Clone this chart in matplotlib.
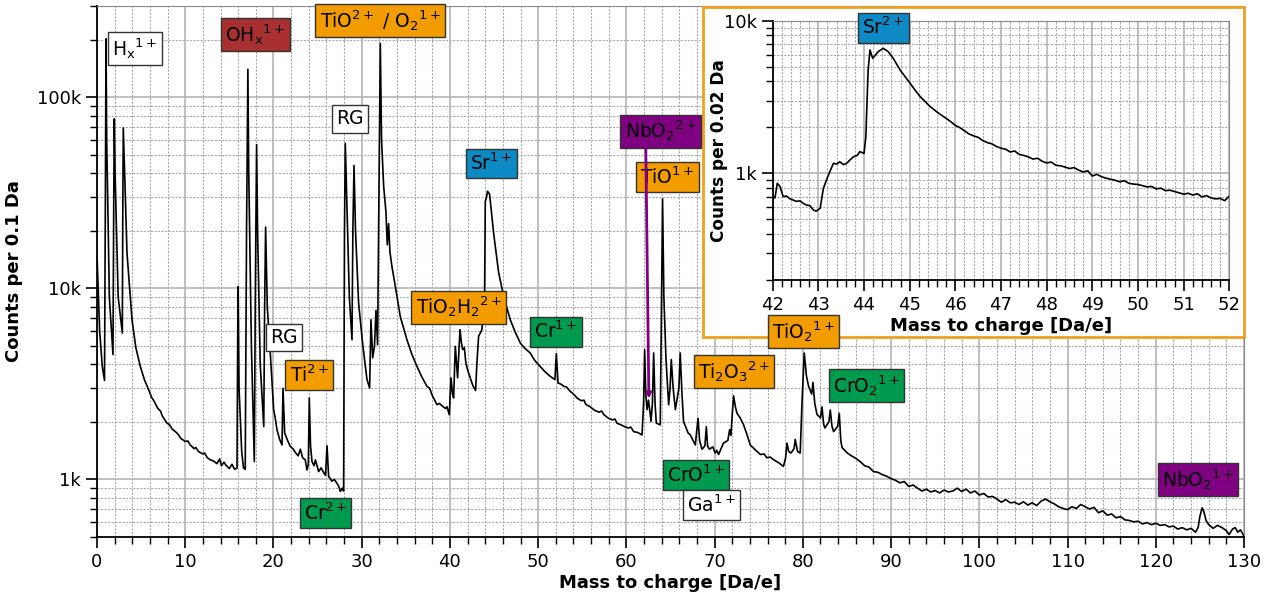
import matplotlib
matplotlib.use('Agg')
import matplotlib.pyplot as plt
from matplotlib.patches import Rectangle
from matplotlib.ticker import MultipleLocator, LogLocator, NullFormatter

plt.rcParams['font.family'] = ['DejaVu Sans']
plt.rcParams['mathtext.default'] = 'regular'

# spectrum, 0.1 Da bins
mass = [0.00, 0.30, 0.60, 0.85, 0.95, 1.02, 1.10, 1.40, 1.81, 1.90, 1.96, 2.05, 2.40, 2.87, 2.93, 2.98,
        3.10, 3.40, 3.97, 4.40, 4.91, 5.40, 5.85, 6.20, 6.40, 6.90, 7.20, 7.40, 7.93, 8.20, 8.50,
        9.00, 9.20, 9.50, 10.00, 10.30, 10.57, 11.00, 11.20, 11.50, 12.00, 12.20, 12.50, 12.84,
        13.20, 13.60, 13.90, 14.10, 14.40, 14.60, 15.00, 15.30, 15.60, 15.87, 15.95, 16.00, 16.10,
        16.40, 16.60, 16.80, 16.95, 17.10, 17.20, 17.50, 17.83, 17.95, 18.09, 18.20, 18.50, 18.90,
        19.00, 19.11, 19.30, 19.64, 20.02, 20.20, 20.40, 20.70, 20.97, 21.08, 21.27, 21.60, 21.90,
        22.20, 22.50, 22.80, 23.05, 23.30, 23.60, 23.80, 23.95, 24.06, 24.20, 24.37, 24.60, 24.75,
        25.12, 25.40, 25.67, 25.90, 26.07, 26.25, 26.62, 26.90, 27.20, 27.40, 27.58, 27.80, 27.95,
        28.05, 28.14, 28.30, 28.60, 28.90, 29.00, 29.13, 29.30, 29.65, 30.10, 30.60, 30.90, 31.05,
        31.25, 31.45, 31.62, 31.80, 31.95, 32.11, 32.25, 32.49, 32.75, 32.90, 33.05, 33.20, 33.43,
        34.00, 34.37, 35.13, 35.70, 36.27, 36.80, 37.40, 37.70, 38.00, 38.53, 38.80, 39.10, 39.50,
        39.67, 39.93, 40.12, 40.30, 40.42, 40.61, 40.87, 41.14, 41.30, 41.44, 41.63, 41.80, 42.00,
        42.30, 42.60, 42.91, 43.05, 43.25, 43.63, 43.93, 44.01, 44.15, 44.27, 44.50, 44.95, 45.52,
        46.09, 46.84, 47.40, 47.98, 48.50, 49.10, 49.60, 50.24, 50.80, 51.38, 51.90, 52.06, 52.25,
        52.60, 52.90, 53.20, 53.60, 54.00, 54.40, 54.90, 55.20, 55.40, 55.90, 56.40, 56.90, 57.20,
        57.42, 57.90, 58.40, 58.70, 58.94, 59.40, 59.90, 60.25, 60.50, 60.82, 61.30, 61.77, 61.95,
        62.07, 62.20, 62.34, 62.50, 62.65, 62.79, 62.95, 63.09, 63.25, 63.39, 63.84, 63.98, 64.10,
        64.25, 64.49, 64.79, 64.95, 65.09, 65.30, 65.55, 65.95, 66.10, 66.30, 66.48, 67.00, 67.24,
        67.81, 68.12, 68.30, 68.57, 68.90, 69.06, 69.20, 69.40, 69.80, 70.06, 70.25, 70.45, 71.00,
        71.50, 71.70, 71.85, 72.00, 72.15, 72.35, 72.54, 72.90, 73.29, 73.70, 74.04, 74.60, 75.20,
        75.60, 75.90, 76.30, 76.70, 77.30, 77.80, 78.05, 78.20, 78.40, 78.66, 79.00, 79.14, 79.40,
        79.70, 79.90, 80.16, 80.40, 80.65, 81.00, 81.15, 81.35, 81.60, 82.00, 82.17, 82.35, 82.50,
        82.95, 83.11, 83.30, 83.49, 83.95, 84.13, 84.30, 84.44, 85.00, 85.50, 86.00, 86.50, 87.00,
        87.50, 88.00, 88.50, 89.00, 89.50, 90.00, 90.50, 91.00, 91.50, 92.00, 92.50, 93.00, 93.50,
        94.00, 94.50, 95.00, 95.50, 96.00, 96.50, 97.00, 97.50, 98.00, 98.50, 99.00, 99.50, 100.00,
        100.50, 101.00, 101.50, 102.00, 102.50, 103.00, 103.50, 104.00, 104.50, 105.00, 105.50,
        106.00, 106.50, 107.00, 107.50, 108.00, 108.50, 109.00, 109.50, 110.00, 110.50, 111.00,
        111.50, 112.00, 112.50, 113.00, 113.50, 114.00, 114.50, 115.00, 115.50, 116.00, 116.50,
        117.00, 117.50, 118.00, 118.50, 119.00, 119.50, 120.00, 120.50, 121.00, 121.50, 122.00,
        122.50, 123.00, 123.50, 124.00, 124.50, 124.80, 125.00, 125.25, 125.45, 125.70, 126.00,
        126.50, 127.00, 127.50, 128.00, 128.30, 128.70, 129.00, 129.30, 129.60, 130.00]
counts = [15000, 6000, 3900, 3300, 30000, 202000, 60000, 9000, 4500, 30000, 77000, 40000, 9000, 5840, 30000, 69000,
          45000, 15300, 6850, 4900, 3900, 3300, 2950, 2680, 2600, 2350, 2280, 2150, 1970, 1940, 1840,
          1760, 1720, 1640, 1580, 1590, 1515, 1450, 1470, 1400, 1360, 1375, 1300, 1267,
          1250, 1210, 1280, 1180, 1230, 1190, 1140, 1200, 1130, 1148, 6000, 10200, 3000,
          1400, 1150, 1130, 20000, 140000, 40000, 5000, 1240, 10000, 56500, 20000, 4000, 1890,
          8000, 20900, 8000, 4590, 2320, 2100, 1820, 1620, 1515, 3000, 1750, 1600, 1490,
          1450, 1380, 1330, 1440, 1300, 1267, 1120, 1200, 2670, 1500, 1240, 1180, 1267,
          1100, 1150, 1090, 1050, 1500, 1040, 980, 1000, 955, 920, 866, 900, 870,
          20000, 57300, 30000, 9000, 5380, 20000, 43900, 20000, 8390, 5170, 3330, 3010, 6850,
          4330, 5000, 7670, 5070, 30000, 191000, 60000, 34200, 25000, 16900, 21800, 15500, 13000,
          9080, 7130, 5380, 4500, 3900, 3450, 3070, 3000, 2750, 2460, 2500, 2430, 2350,
          2400, 2180, 3400, 2800, 2670, 4970, 3400, 6080, 5200, 4780, 4900, 4100, 3750,
          3400, 3100, 2920, 4000, 5610, 6080, 9460, 28500, 30000, 32200, 31000, 19500, 12100,
          9080, 6850, 5900, 5170, 4850, 4590, 4200, 3900, 3650, 3460, 3330, 4550, 3200,
          3150, 3070, 3050, 2900, 2800, 2670, 2580, 2600, 2470, 2400, 2300, 2250, 2280,
          2190, 2100, 2050, 2070, 1970, 1930, 1880, 1860, 1880, 1780, 1760, 1710, 2500,
          4780, 2800, 2320, 2600, 2300, 2010, 2500, 4590, 2500, 1970, 1930, 8000, 29400,
          9000, 4240, 2460, 3000, 4240, 3000, 2320, 3000, 4590, 2800, 2010, 1750, 1710,
          1515, 2090, 1600, 1440, 1500, 1890, 1500, 1440, 1480, 1375, 1420, 1350, 1550,
          1600, 1820, 1700, 2200, 2740, 2400, 2220, 2100, 1930, 1700, 1515, 1430, 1350,
          1360, 1300, 1310, 1267, 1220, 1170, 1300, 1550, 1400, 1375, 1450, 1620, 1400,
          1375, 2500, 4590, 3500, 3070, 2800, 3220, 2500, 2190, 2100, 2400, 1950, 1860,
          2000, 2310, 1900, 1780, 1900, 2220, 1600, 1470, 1380, 1330, 1290, 1240, 1180,
          1160, 1100, 1090, 1060, 1040, 1010, 990, 960, 975, 920, 935, 900, 870,
          890, 860, 875, 850, 880, 860, 870, 900, 865, 890, 850, 870, 830,
          845, 810, 815, 790, 760, 785, 755, 760, 740, 765, 735,
          755, 730, 770, 790, 765, 745, 720, 705, 695, 720, 705,
          740, 720, 700, 715, 670, 685, 650, 660, 630, 640, 615,
          610, 600, 605, 585, 595, 580, 590, 575, 580, 565, 570,
          550, 560, 545, 555, 530, 560, 640, 710, 680, 610, 580,
          555, 575, 560, 540, 515, 550, 560, 530, 545, 505]

# zoom on the Sr2+ peak, 0.02 Da bins
inset_mass = [42.00, 42.05, 42.10, 42.16, 42.23, 42.30, 42.38, 42.45, 42.52, 42.60, 42.67, 42.74, 42.82,
              42.89, 42.95, 43.04, 43.11, 43.22, 43.33, 43.40, 43.47, 43.55, 43.62, 43.70, 43.77,
              43.85, 43.91, 44.00, 44.04, 44.09, 44.13, 44.19, 44.31, 44.42, 44.53, 44.64, 44.79,
              44.90, 45.01, 45.12, 45.23, 45.34, 45.45, 45.60, 45.70, 45.80, 45.90, 46.00, 46.10,
              46.20, 46.30, 46.40, 46.50, 46.60, 46.70, 46.80, 46.90, 47.00, 47.10, 47.20, 47.30,
              47.40, 47.50, 47.60, 47.70, 47.80, 47.90, 48.00, 48.10, 48.20, 48.30, 48.40, 48.50,
              48.60, 48.70, 48.80, 48.90, 49.00, 49.10, 49.20, 49.30, 49.40, 49.50, 49.60, 49.70,
              49.80, 49.90, 50.00, 50.10, 50.20, 50.30, 50.40, 50.50, 50.60, 50.70, 50.80, 50.90,
              51.00, 51.10, 51.20, 51.30, 51.40, 51.50, 51.60, 51.70, 51.80, 51.90, 52.00]
inset_counts = [703, 690, 860, 820, 703, 710, 680, 668, 655, 660, 635, 620, 612,
                575, 565, 590, 798, 975, 1163, 1150, 1190, 1140, 1163, 1230, 1285,
                1310, 1387, 1350, 1740, 4750, 6430, 5670, 6270, 6590, 6270, 5670, 4750,
                4300, 3890, 3500, 3180, 2950, 2735, 2520, 2400, 2290, 2180, 2060, 1990,
                1900, 1810, 1760, 1720, 1640, 1590, 1560, 1500, 1460, 1440, 1380, 1400,
                1330, 1310, 1280, 1240, 1255, 1200, 1170, 1185, 1130, 1120, 1100, 1075,
                1090, 1050, 1020, 1040, 960, 985, 950, 930, 915, 900, 880, 895,
                860, 850, 845, 830, 815, 820, 790, 800, 770, 775, 760, 745,
                730, 740, 720, 735, 700, 715, 690, 680, 685, 662, 710]

orange = '#f29c00'
green = '#009a4e'
blue = '#0d89c4'
purple = '#7f0081'
brown = '#a83030'
white = '#ffffff'

# ion labels: text, mass, counts, box colour
labels = [
    (r'H$_x$$^{1+}$', 4.3, 180000, white),
    (r'OH$_x$$^{1+}$', 17.95, 212000, brown),
    (r'TiO$^{2+}$ / O$_2$$^{1+}$', 32.1, 251000, orange),
    ('RG', 28.65, 77000, white),
    ('RG', 21.2, 5520, white),
    (r'Ti$^{2+}$', 24.05, 3520, orange),
    (r'Cr$^{2+}$', 25.9, 665, green),
    (r'TiO$_2$H$_2$$^{2+}$', 41.0, 7980, orange),
    (r'Sr$^{1+}$', 44.7, 45000, blue),
    (r'Cr$^{1+}$', 52.0, 5930, green),
    (r'NbO$_2$$^{2+}$', 63.9, 66500, purple),
    (r'TiO$^{1+}$', 64.65, 38200, orange),
    (r'Ti$_2$O$_3$$^{2+}$', 72.2, 3660, orange),
    (r'CrO$^{1+}$', 67.9, 1052, green),
    (r'Ga$^{1+}$', 69.6, 733, white),
    (r'TiO$_2$$^{1+}$', 80.1, 5970, orange),
    (r'CrO$_2$$^{1+}$', 87.2, 3110, green),
    (r'NbO$_2$$^{1+}$', 124.8, 1003, purple),
]

W, H = 1268, 605
fig = plt.figure(figsize=(W / 100, H / 100), dpi=100)


def px_box(left, top, right, bottom):
    return [left / W, 1 - bottom / H, (right - left) / W, (bottom - top) / H]


def style_grid(a):
    a.grid(True, which='major', color='#b4b4b4', lw=1.2, ls='-')
    a.grid(True, which='minor', color='#aaaaaa', lw=0.8, ls=(0, (2, 1.2)))
    a.set_axisbelow(True)
    for s in ['top', 'right']:
        a.spines[s].set_color('#8a8a8a')
    for s in ['left', 'bottom']:
        a.spines[s].set_linewidth(1.3)
    a.tick_params(which='major', direction='out', length=8, width=1.2, labelsize=13)
    a.tick_params(which='minor', direction='out', length=5, width=1.0)


main_box = px_box(97, 6, 1244, 537)
ax = fig.add_axes(main_box)
ax.plot(mass, counts, color='black', lw=1.2)
ax.set_yscale('log')
ax.set_xlim(0, 130)
ax.set_ylim(500, 300000)
ax.xaxis.set_major_locator(MultipleLocator(10))
ax.xaxis.set_minor_locator(MultipleLocator(2))
ax.set_yticks([1e3, 1e4, 1e5])
ax.set_yticklabels(['1k', '10k', '100k'])
ax.yaxis.set_minor_locator(LogLocator(base=10, subs=range(2, 10)))
ax.yaxis.set_minor_formatter(NullFormatter())
style_grid(ax)
ax.set_xlabel('Mass to charge [Da/e]', fontsize=13, fontweight='bold', labelpad=2)
ax.set_ylabel('Counts per 0.1 Da', fontsize=13, fontweight='bold', labelpad=10)

# inset frame
frame = Rectangle((703 / W, 1 - 337 / H), (1244 - 703) / W, (337 - 7) / H,
                  transform=fig.transFigure, fc='white', ec='#f0a020', lw=2, zorder=3)
fig.add_artist(frame)

axi = fig.add_axes(px_box(772.7, 20.7, 1229.3, 280))
axi.set_zorder(4)
axi.plot(inset_mass, inset_counts, color='black', lw=1.2)
axi.set_yscale('log')
axi.set_xlim(42, 52)
axi.set_ylim(200, 10000)
axi.xaxis.set_major_locator(MultipleLocator(1))
axi.xaxis.set_minor_locator(MultipleLocator(0.2))
axi.set_yticks([1e3, 1e4])
axi.set_yticklabels(['1k', '10k'])
axi.yaxis.set_minor_locator(LogLocator(base=10, subs=range(2, 10)))
axi.yaxis.set_minor_formatter(NullFormatter())
style_grid(axi)
axi.set_xlabel('Mass to charge [Da/e]', fontsize=13, fontweight='bold', labelpad=2)
axi.set_ylabel('Counts per 0.02 Da', fontsize=12.2, fontweight='bold')
axi.yaxis.set_label_coords(-0.097, 0.5)
axi.text(44.43, 9000, r'Sr$^{2+}$', fontsize=13.5, ha='center', va='center', zorder=5,
         clip_on=False, bbox=dict(boxstyle='square,pad=0.22', fc=blue, ec='#333333', lw=1))

# transparent layer on top of everything for the ion labels
top = fig.add_axes(main_box)
top.set_zorder(6)
top.set_yscale('log')
top.set_xlim(0, 130)
top.set_ylim(500, 300000)
top.axis('off')

for text, x, y, c in labels:
    top.text(x, y, text, fontsize=13.5, ha='center', va='center', zorder=5,
             bbox=dict(boxstyle='square,pad=0.22', fc=c, ec='#333333', lw=1))

# NbO2 2+ pointer
top.annotate('', xy=(62.55, 2650), xytext=(62.2, 55000), zorder=7,
             arrowprops=dict(arrowstyle='-|>', color=purple, lw=2, mutation_scale=7,
                             shrinkA=0, shrinkB=0))

fig.savefig('out.png', dpi=100)
